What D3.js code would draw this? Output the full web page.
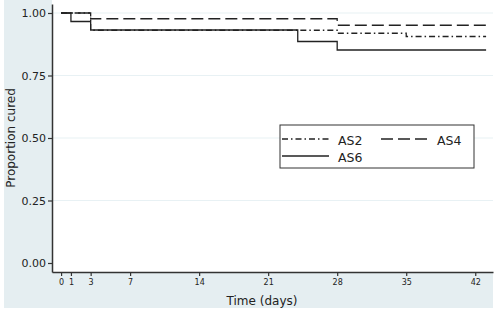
<!DOCTYPE html>
<html>
<head>
<meta charset="utf-8">
<script src="https://cdn.jsdelivr.net/npm/d3@7"></script>
<style>
  body { margin: 0; background: #fff; }
  text { font-family: "DejaVu Sans", sans-serif; fill: #222; }
</style>
</head>
<body>
<script>
var w = 498;
var h = 314;

// Kaplan-Meier steps
var as2Times = [0, 3, 28, 35, 43.1];
var as2Surv = [1, 0.931, 0.919, 0.906, 0.906];
var as4Times = [0, 3, 28, 43.1];
var as4Surv = [1, 0.977, 0.951, 0.951];
var as6Times = [0, 1, 3, 24, 28, 43.1];
var as6Surv = [1, 0.966, 0.932, 0.886, 0.852, 0.852];

var xTicks = [0, 1, 3, 7, 14, 21, 28, 35, 42];
var yTicks = [0, 0.25, 0.5, 0.75, 1];
var legendNames = ["AS2", "AS4", "AS6"];

var dashes = { AS2: "6,3,1.5,3", AS4: "12,5", AS6: null };

var series = [
  { name: "AS2", pts: as2Times.map(function(t, i) { return [t, as2Surv[i]]; }) },
  { name: "AS4", pts: as4Times.map(function(t, i) { return [t, as4Surv[i]]; }) },
  { name: "AS6", pts: as6Times.map(function(t, i) { return [t, as6Surv[i]]; }) }
];

// plot area edges (note: "top" is reserved on window)
var plotLeft = 52, plotRight = 493, plotTop = 4, plotBottom = 272;

var xScale = d3.scaleLinear().domain([-0.92, 43.8]).range([plotLeft, plotRight]);
var yScale = d3.scaleLinear().domain([-0.036, 1.036]).range([plotBottom, plotTop]);

var svg = d3.select("body").append("svg")
  .attr("width", w)
  .attr("height", h);

// outer graph region and white plot region
svg.append("rect")
  .attr("x", 4).attr("y", 0)
  .attr("width", plotRight - 4).attr("height", 308)
  .attr("fill", "#e5eef1");
svg.append("rect")
  .attr("x", plotLeft).attr("y", 0)
  .attr("width", plotRight - plotLeft).attr("height", plotBottom)
  .attr("fill", "#fff");

// grid
svg.selectAll("line.grid")
  .data(yTicks.slice(1))
  .enter().append("line")
  .attr("class", "grid")
  .attr("x1", plotLeft).attr("x2", plotRight)
  .attr("y1", function(d) { return yScale(d); })
  .attr("y2", function(d) { return yScale(d); })
  .attr("stroke", "#e8f1f4")
  .attr("stroke-width", 1.2);

// axes
var yAxis = svg.append("g")
  .attr("transform", "translate(" + plotLeft + ",0)")
  .call(d3.axisLeft(yScale).tickValues(yTicks).tickFormat(d3.format(".2f"))
    .tickSize(4).tickSizeOuter(0).tickPadding(2));
yAxis.selectAll("text").style("font-size", "11px");

var xAxis = svg.append("g")
  .attr("transform", "translate(0," + plotBottom + ")")
  .call(d3.axisBottom(xScale).tickValues(xTicks).tickFormat(d3.format("d"))
    .tickSize(4).tickSizeOuter(0).tickPadding(3));
xAxis.selectAll("text").style("font-size", "8px");

svg.selectAll(".domain").attr("stroke", "#333").attr("stroke-width", 1.5);
svg.selectAll(".tick line").attr("stroke", "#333").attr("stroke-width", 1.2);

// curves
var line = d3.line()
  .x(function(d) { return xScale(d[0]); })
  .y(function(d) { return yScale(d[1]); })
  .curve(d3.curveStepAfter);

svg.selectAll("path.km")
  .data(series)
  .enter().append("path")
  .attr("class", "km")
  .attr("d", function(d) { return line(d.pts); })
  .attr("fill", "none")
  .attr("stroke", "#222")
  .attr("stroke-width", 1.3)
  .attr("stroke-dasharray", function(d) { return dashes[d.name]; });

// axis titles
svg.append("text")
  .attr("text-anchor", "middle")
  .attr("x", 262)
  .attr("y", 305)
  .style("font-size", "12px")
  .text("Time (days)");

svg.append("text")
  .attr("text-anchor", "middle")
  .attr("transform", "rotate(-90)")
  .attr("x", -138)
  .attr("y", 15)
  .style("font-size", "12px")
  .text("Proportion cured");

// legend
var legend = svg.append("g");
legend.append("rect")
  .attr("x", 280).attr("y", 125)
  .attr("width", 194).attr("height", 43)
  .attr("fill", "#fff")
  .attr("stroke", "#333")
  .attr("stroke-width", 1);

var legendPos = [[282, 139], [381, 139], [282, 156]];
legendNames.forEach(function(name, i) {
  var p = legendPos[i];
  legend.append("line")
    .attr("x1", p[0]).attr("x2", p[0] + 47)
    .attr("y1", p[1]).attr("y2", p[1])
    .attr("stroke", "#222")
    .attr("stroke-width", 1.3)
    .attr("stroke-dasharray", dashes[name]);
  legend.append("text")
    .attr("x", p[0] + 56)
    .attr("y", p[1] + 6)
    .style("font-size", "12.5px")
    .text(name);
});
</script>
</body>
</html>
